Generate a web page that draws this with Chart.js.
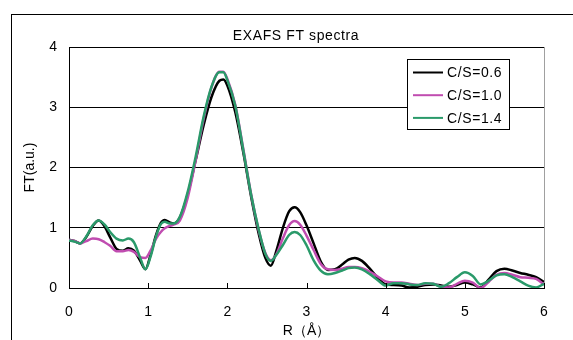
<!DOCTYPE html>
<html>
<head>
<meta charset="utf-8">
<script src="https://cdn.jsdelivr.net/npm/chart.js@4"></script>
<style>
  body { margin: 0; background: #fff; }
  #wrap { position: relative; width: 573px; height: 340px; overflow: hidden; }
  #frame { position: absolute; left: 11px; top: 14px; width: 700px; height: 400px;
           border-top: 1px solid #000; border-left: 1px solid #000; }
  canvas { position: absolute; left: 0; top: 0; }
</style>
</head>
<body>
<div id="wrap">
  <div id="frame"></div>
  <canvas id="myChart" width="573" height="340"></canvas>
</div>
<script>
const ctx = document.getElementById('myChart').getContext('2d');

// R (Angstrom) sample points
const rValues = [0, 0.07, 0.14, 0.22, 0.3, 0.375, 0.45, 0.52, 0.6, 0.68, 0.75, 0.82, 0.9, 0.965, 1.03, 1.1, 1.16, 1.21, 1.27, 1.32,
  1.4, 1.5, 1.6, 1.7, 1.8, 1.9, 1.95, 2.0, 2.1, 2.2, 2.3, 2.4, 2.48, 2.55, 2.62, 2.7, 2.78, 2.85, 2.92, 3.0,
  3.09, 3.18, 3.27, 3.36, 3.45, 3.53, 3.61, 3.7, 3.8, 3.9, 4.0, 4.1, 4.2, 4.3, 4.4, 4.5, 4.6, 4.7, 4.8, 4.9,
  5.0, 5.1, 5.2, 5.3, 5.4, 5.5, 5.6, 5.7, 5.8, 5.9, 6.0]

const cs06 = [0.80, 0.78, 0.74, 0.85, 1.03, 1.12, 1.02, 0.84, 0.65, 0.62, 0.66, 0.62, 0.45, 0.31, 0.55, 0.88, 1.08, 1.13, 1.09, 1.07,
  1.17, 1.56, 2.12, 2.70, 3.17, 3.44, 3.46, 3.36, 2.92, 2.26, 1.52, 0.88, 0.50, 0.37, 0.62, 0.99, 1.27, 1.34, 1.26, 1.04,
  0.74, 0.44, 0.30, 0.31, 0.39, 0.47, 0.50, 0.45, 0.32, 0.17, 0.06, 0.05, 0.04, 0.01, 0.02, 0.05, 0.06, 0.04, 0.02, 0.05,
  0.09, 0.06, 0.01, 0.14, 0.28, 0.32, 0.29, 0.25, 0.22, 0.18, 0.10]

const cs10 = [0.80, 0.78, 0.74, 0.78, 0.82, 0.81, 0.76, 0.70, 0.61, 0.61, 0.63, 0.60, 0.51, 0.50, 0.62, 0.82, 0.93, 0.99, 1.03, 1.05,
  1.12, 1.50, 2.12, 2.80, 3.33, 3.59, 3.59, 3.47, 3.04, 2.32, 1.56, 0.94, 0.58, 0.46, 0.56, 0.82, 1.04, 1.11, 1.05, 0.87,
  0.63, 0.40, 0.31, 0.30, 0.32, 0.35, 0.35, 0.33, 0.27, 0.19, 0.11, 0.09, 0.09, 0.07, 0.05, 0.07, 0.07, 0.02, 0.01, 0.07,
  0.12, 0.09, 0.00, 0.10, 0.22, 0.25, 0.22, 0.18, 0.17, 0.15, 0.06]

const cs14 = [0.79, 0.77, 0.74, 0.86, 1.04, 1.12, 1.05, 0.93, 0.82, 0.79, 0.82, 0.76, 0.50, 0.31, 0.52, 0.86, 1.06, 1.10, 1.07, 1.07,
  1.18, 1.60, 2.18, 2.84, 3.34, 3.58, 3.58, 3.45, 3.03, 2.30, 1.55, 0.95, 0.57, 0.45, 0.55, 0.71, 0.88, 0.93, 0.88, 0.71,
  0.46, 0.29, 0.23, 0.25, 0.29, 0.33, 0.34, 0.31, 0.23, 0.13, 0.04, 0.08, 0.08, 0.06, 0.05, 0.08, 0.07, 0.02, 0.08, 0.18,
  0.26, 0.20, 0.06, 0.12, 0.21, 0.23, 0.18, 0.11, 0.04, 0.01, 0.07]

const seriesNames = ['C/S=0.6', 'C/S=1.0', 'C/S=1.4']
const seriesColors = ['#000000', '#c04cb0', '#2a9a6a']
const xTicks = [0, 1, 2, 3, 4, 5, 6]
const yTicks = [0, 1, 2, 3, 4]

const toPoints = (vals) => vals.map((v, i) => ({ x: rValues[i], y: v }))
const fontName = "'Liberation Sans', Arial, sans-serif"

// title, right frame, inner ticks and the boxed legend
const extras = {
    id: 'extras',
    afterDraw(chart) {
        const c = chart.ctx
        const area = chart.chartArea
        const xs = chart.scales.x
        c.save()
        c.strokeStyle = '#a0a0a0'
        c.lineWidth = 1
        c.beginPath()
        c.moveTo(Math.round(area.right) + 0.5, area.top)
        c.lineTo(Math.round(area.right) + 0.5, area.bottom)
        c.stroke()
        c.strokeStyle = '#000'
        xTicks.forEach(t => {
            const px = Math.round(xs.getPixelForValue(t)) + 0.5
            c.beginPath()
            c.moveTo(px, area.bottom)
            c.lineTo(px, area.bottom - 5)
            c.stroke()
        })
        c.fillStyle = '#000'
        c.font = '14px ' + fontName
        c.letterSpacing = '0.6px'
        c.textAlign = 'center'
        c.textBaseline = 'middle'
        c.fillText('EXAFS FT spectra', 296, 36)

        // legend box
        const bx = 407, by = 59, bw = 102, bh = 70
        c.fillStyle = '#fff'
        c.fillRect(bx, by, bw, bh)
        c.strokeStyle = '#000'
        c.strokeRect(bx + 0.5, by + 0.5, bw, bh)
        chart.data.datasets.forEach((ds, i) => {
            const yy = 72.5 + i * 22.7
            c.strokeStyle = ds.borderColor
            c.lineWidth = 2
            c.beginPath()
            c.moveTo(413, yy)
            c.lineTo(443, yy)
            c.stroke()
            c.fillStyle = '#000'
            c.textAlign = 'left'
            c.fillText(ds.label, 447, yy + 1)
        })
        c.restore()
    }
}

const config = {
    type: 'line',
    data: {
        datasets: seriesNames.map((name, i) => ({
            label: name,
            data: toPoints([cs06, cs10, cs14][i]),
            borderColor: seriesColors[i],
            backgroundColor: seriesColors[i],
            borderWidth: 2.5,
            pointRadius: 0,
            cubicInterpolationMode: 'monotone',
            fill: false,
            order: 2 - i
        }))
    },
    options: {
        responsive: false,
        animation: false,
        events: [],
        layout: { padding: { left: 0, right: 29, top: 47, bottom: 0 } },
        plugins: {
            legend: { display: false },
            title: { display: false },
            tooltip: { enabled: false }
        },
        scales: {
            x: {
                type: 'linear',
                min: 0,
                max: 6,
                afterFit: (s) => { s.height = 52 },
                afterBuildTicks: (s) => { s.ticks = xTicks.map(v => ({ value: v })) },
                grid: { display: false, drawTicks: false },
                border: { display: true, color: '#000', width: 1 },
                ticks: { color: '#000', padding: 16, font: { size: 14, family: fontName } },
                title: { display: true, text: 'R（Å）', color: '#000', padding: 0, font: { size: 14, family: fontName } }
            },
            y: {
                min: 0,
                max: 4,
                afterFit: (s) => { s.width = 69 },
                afterBuildTicks: (s) => { s.ticks = yTicks.map(v => ({ value: v })) },
                grid: { color: '#000', lineWidth: 1, drawTicks: false },
                border: { display: true, color: '#000', width: 1 },
                ticks: { color: '#000', padding: 12, font: { size: 14, family: fontName } },
                title: { display: true, text: 'FT(a.u.)', color: '#000', padding: { top: 22, bottom: 0 }, font: { size: 14, family: fontName } }
            }
        }
    },
    plugins: [extras]
}

const myChart = new Chart(ctx, config)
</script>
</body>
</html>
